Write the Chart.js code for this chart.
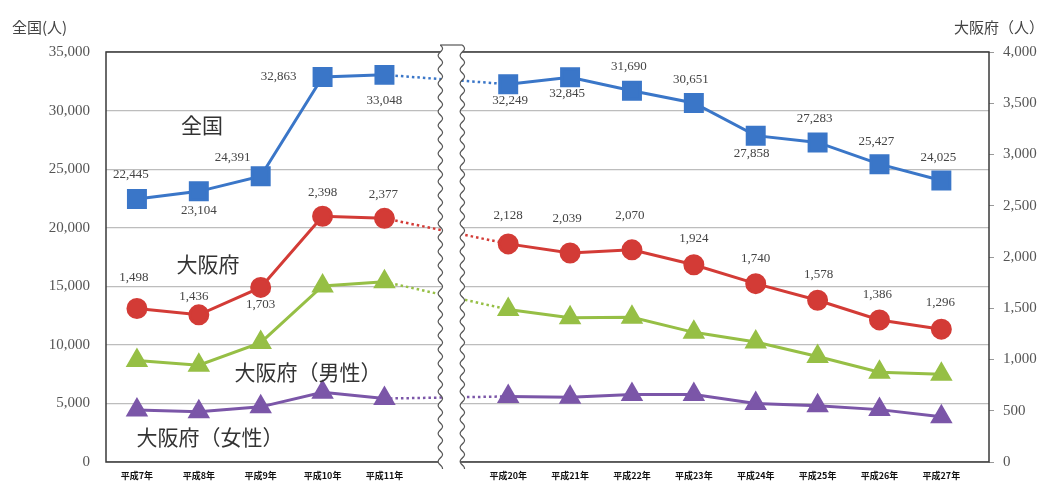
<!DOCTYPE html>
<html>
<head>
<meta charset="utf-8">
<script src="https://cdn.jsdelivr.net/npm/chart.js@4"></script>
<style>
  body { margin: 0; background: #fff; }
  #wrap { width: 1047px; height: 487px; position: relative; }
</style>
</head>
<body>
<div id="wrap"><canvas id="chart"></canvas></div>
<script>
// 年ごとの自殺者数（平成12～19年は省略、'' はグラフの切れ目）
const years = ['平成7年', '平成8年', '平成9年', '平成10年', '平成11年', '',
  '平成20年', '平成21年', '平成22年', '平成23年', '平成24年', '平成25年', '平成26年', '平成27年'];
const zenkoku = [22445, 23104, 24391, 32863, 33048, null,
  32249, 32845, 31690, 30651, 27858, 27283, 25427, 24025];
const osaka = [1498, 1436, 1703, 2398, 2377, null,
  2128, 2039, 2070, 1924, 1740, 1578, 1386, 1296];
const osakaMale = [990, 945, 1165, 1718, 1758, null,
  1488, 1408, 1412, 1265, 1170, 1030, 875, 855];
const osakaFemale = [508, 491, 538, 680, 619, null,
  640, 631, 658, 659, 570, 548, 511, 441];
const leftTicks = [0, 5000, 10000, 15000, 20000, 25000, 30000, 35000];
const rightTicks = [0, 500, 1000, 1500, 2000, 2500, 3000, 3500, 4000];

// label offsets (dx, dy) from each point
const zenkokuLabelPos = [[-6, -24], [0, 19], [-28, -19], [-44, 0], [0, 26], null,
  [2, 16], [-3, 16], [-3, -24], [-3, -23], [-4, 18], [-3, -24], [-3, -23], [-3, -23]];
const osakaLabelPos = [[-3, -31], [-5, -18], [0, 17], [0, -24], [-1, -24], null,
  [0, -28], [-3, -34], [-2, -34], [0, -26], [0, -25], [1, -26], [-2, -25], [-1, -27]];

const fmt = (v) => v.toLocaleString('en-US');
const pts = (arr) => arr.map((v, i) => ({ x: i, y: v }));

const acrossGap = (ctx) => ctx.p0.skip || ctx.p1.skip;
const gapDash = (ctx) => (acrossGap(ctx) ? [2.5, 3] : undefined);
const gapWidth = (ctx) => (acrossGap(ctx) ? 2.5 : undefined);

function series(label, arr, color, axis, style, radius) {
  return {
    label,
    data: pts(arr),
    yAxisID: axis,
    borderColor: color,
    backgroundColor: color,
    pointBackgroundColor: color,
    pointBorderColor: color,
    pointStyle: style,
    pointRadius: radius,
    pointHoverRadius: radius,
    borderWidth: 3,
    spanGaps: true,
    segment: { borderDash: gapDash, borderWidth: gapWidth },
  };
}

const chartAreaBorder = {
  id: 'chartAreaBorder',
  beforeDatasetsDraw(chart) {
    const { ctx, chartArea: { left, top, width, height } } = chart;
    ctx.save();
    ctx.strokeStyle = '#3a3a3a';
    ctx.lineWidth = 1.5;
    ctx.strokeRect(left, top, width, height);
    ctx.restore();
  },
};

const axisBreak = {
  id: 'axisBreak',
  afterDatasetsDraw(chart) {
    const { ctx, chartArea: { top, bottom }, scales: { x } } = chart;
    const cx = (x.getPixelForValue(4) + x.getPixelForValue(6)) / 2 + 5;
    const half = 11;
    const y0 = top - 7;
    const y1 = bottom + 7;
    const wave = (x0) => {
      const p = [];
      for (let y = y0; y <= y1; y += 1) {
        p.push([x0 + 2.2 * Math.sin((y - y0) / 14 * Math.PI * 2), y]);
      }
      return p;
    };
    const l = wave(cx - half);
    const r = wave(cx + half);
    ctx.save();
    ctx.fillStyle = '#fff';
    ctx.beginPath();
    l.forEach(([px, py], i) => (i ? ctx.lineTo(px, py) : ctx.moveTo(px, py)));
    r.slice().reverse().forEach(([px, py]) => ctx.lineTo(px, py));
    ctx.closePath();
    ctx.fill();
    ctx.strokeStyle = '#555';
    ctx.lineWidth = 1.2;
    [l, r].forEach((w) => {
      ctx.beginPath();
      w.forEach(([px, py], i) => (i ? ctx.lineTo(px, py) : ctx.moveTo(px, py)));
      ctx.stroke();
    });
    ctx.beginPath();
    ctx.moveTo(l[0][0], y0);
    ctx.lineTo(r[0][0], y0);
    ctx.stroke();
    ctx.restore();
  },
};

const textLabels = {
  id: 'textLabels',
  afterDatasetsDraw(chart) {
    const { ctx, scales } = chart;
    ctx.save();
    ctx.textAlign = 'center';
    ctx.textBaseline = 'middle';
    ctx.fillStyle = '#444';
    ctx.font = '13px "Liberation Serif", "DejaVu Serif", serif';
    zenkoku.forEach((v, i) => {
      if (v === null) return;
      const [dx, dy] = zenkokuLabelPos[i];
      ctx.fillText(fmt(v), scales.x.getPixelForValue(i) + dx, scales.yL.getPixelForValue(v) + dy);
    });
    osaka.forEach((v, i) => {
      if (v === null) return;
      const [dx, dy] = osakaLabelPos[i];
      ctx.fillText(fmt(v), scales.x.getPixelForValue(i) + dx, scales.yR.getPixelForValue(v) + dy);
    });

    ctx.fillStyle = '#333';
    ctx.font = '21px "Noto Sans CJK JP", sans-serif';
    ctx.fillText('全国', 202, 125);
    ctx.fillText('大阪府', 208, 264);
    ctx.fillText('大阪府（男性）', 308, 372);
    ctx.fillText('大阪府（女性）', 210, 437);

    ctx.fillStyle = '#444';
    ctx.font = '15px "Noto Sans CJK JP", sans-serif';
    ctx.textAlign = 'left';
    ctx.fillText('全国(人)', 12, 27);
    ctx.textAlign = 'right';
    ctx.fillText('大阪府（人）', 1044, 27);
    ctx.restore();
  },
};

new Chart(document.getElementById('chart'), {
  type: 'line',
  data: {
    datasets: [
      series('全国', zenkoku, '#3a76c8', 'yL', 'rect', 12),
      series('大阪府', osaka, '#d33b36', 'yR', 'circle', 9),
      series('大阪府（男性）', osakaMale, '#96bf45', 'yR', 'triangle', 10),
      series('大阪府（女性）', osakaFemale, '#7b56a8', 'yR', 'triangle', 10),
    ],
  },
  options: {
    responsive: true,
    maintainAspectRatio: false,
    animation: false,
    layout: { padding: { top: 52, left: 0, right: 0, bottom: 0 } },
    scales: {
      x: {
        type: 'linear',
        min: -0.5,
        max: 13.77,
        grid: { display: false, drawTicks: false },
        border: { display: false },
        afterBuildTicks: (axis) => {
          axis.ticks = years.map((y, i) => ({ value: i })).filter((t) => years[t.value]);
        },
        afterFit: (axis) => { axis.height = 22; },
        ticks: {
          autoSkip: false,
          maxRotation: 0,
          padding: 8,
          color: '#111',
          font: { family: '"Noto Sans CJK JP", sans-serif', size: 9, weight: 'bold' },
          callback: (v) => years[v] || '',
        },
      },
      yL: {
        position: 'left',
        min: 0,
        max: 35000,
        grid: { color: '#bdbdbd', lineWidth: 1.2, drawTicks: false },
        border: { display: false },
        afterBuildTicks: (axis) => { axis.ticks = leftTicks.map((v) => ({ value: v })); },
        afterFit: (axis) => { axis.width = 106; },
        ticks: {
          padding: 16,
          color: '#555',
          font: { family: '"Liberation Serif", "DejaVu Serif", serif', size: 15 },
          callback: (v) => fmt(v),
        },
      },
      yR: {
        position: 'right',
        min: 0,
        max: 4000,
        grid: { drawOnChartArea: false, drawTicks: true, tickLength: 5, color: '#999' },
        border: { display: false },
        afterBuildTicks: (axis) => { axis.ticks = rightTicks.map((v) => ({ value: v })); },
        afterFit: (axis) => { axis.width = 58; },
        ticks: {
          padding: 9,
          color: '#555',
          font: { family: '"Liberation Serif", "DejaVu Serif", serif', size: 15 },
          callback: (v) => fmt(v),
        },
      },
    },
    plugins: {
      legend: { display: false },
      tooltip: { enabled: false },
    },
  },
  plugins: [chartAreaBorder, axisBreak, textLabels],
});
</script>
</body>
</html>
